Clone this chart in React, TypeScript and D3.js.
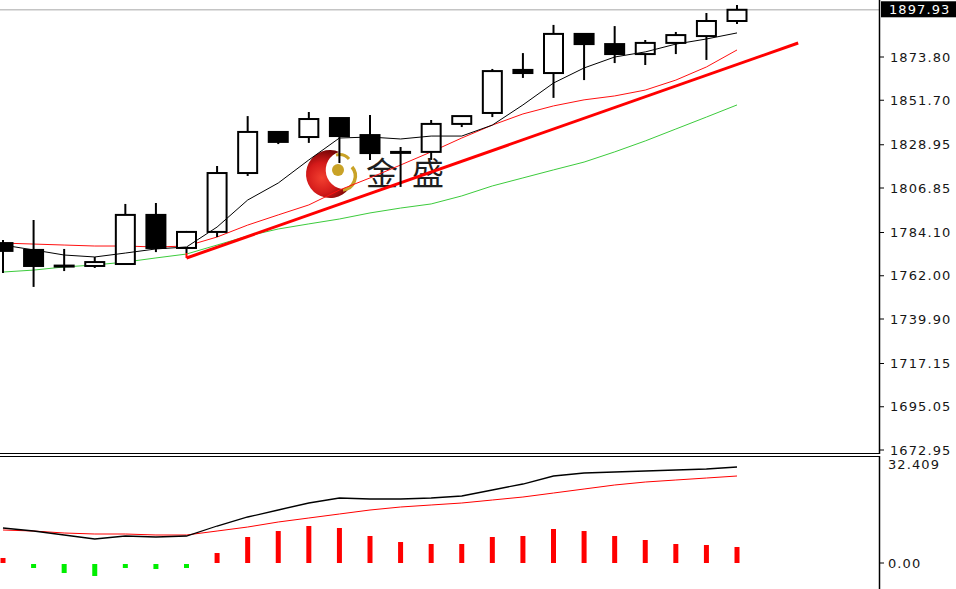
import * as d3 from "d3";

// price candles (left to right)
const opens = [1778.7, 1775.2, 1767.2, 1767.0, 1768.0, 1793.1, 1776.2, 1784.4, 1814.5, 1835.5, 1832.9, 1842.6, 1833.9, 1825.3, 1825.3, 1839.6, 1845.2, 1867.2, 1865.6, 1885.6, 1880.4, 1875.3, 1881.0, 1884.5, 1892.2];
const highs = [1780.3, 1790.5, 1775.7, 1771.6, 1798.7, 1799.2, 1784.9, 1818.1, 1843.6, 1835.5, 1845.7, 1842.6, 1844.2, 1827.8, 1841.6, 1843.6, 1867.7, 1875.8, 1890.2, 1885.6, 1889.6, 1882.5, 1886.6, 1896.3, 1900.4];
const lows = [1763.4, 1756.3, 1764.4, 1766.0, 1768.0, 1774.1, 1773.6, 1781.8, 1813.0, 1829.3, 1829.9, 1819.6, 1821.2, 1807.4, 1821.2, 1838.0, 1843.1, 1863.1, 1852.9, 1862.0, 1870.7, 1869.7, 1875.3, 1872.3, 1890.7];
const closes = [1774.7, 1767.0, 1766.7, 1769.0, 1793.1, 1776.2, 1784.4, 1814.5, 1835.5, 1830.4, 1842.1, 1833.4, 1824.7, 1825.0, 1839.6, 1843.6, 1866.6, 1865.6, 1885.6, 1880.4, 1875.3, 1881.0, 1885.0, 1892.2, 1897.93];

// moving averages
const maFast = [1777.7, 1775.2, 1772.6, 1771.6, 1773.6, 1775.7, 1776.7, 1786.9, 1800.7, 1809.4, 1821.2, 1832.4, 1832.9, 1831.9, 1833.4, 1833.4, 1839.0, 1849.3, 1860.5, 1868.2, 1873.8, 1876.4, 1880.4, 1883.0, 1886.1];
const maMid = [1778.7, 1778.2, 1777.7, 1777.2, 1777.2, 1776.7, 1777.2, 1781.8, 1787.9, 1793.1, 1798.2, 1805.8, 1812.0, 1818.6, 1825.3, 1832.4, 1839.0, 1844.7, 1848.8, 1851.9, 1853.9, 1856.9, 1862.0, 1868.7, 1877.4];
const maSlow = [1763.9, 1764.9, 1766.5, 1767.5, 1769.0, 1771.1, 1773.1, 1777.7, 1782.3, 1785.9, 1788.5, 1791.0, 1794.1, 1796.6, 1798.7, 1802.8, 1807.9, 1812.0, 1816.1, 1820.1, 1825.3, 1830.9, 1837.0, 1843.1, 1849.3];

// trend line (bar index, price)
const trendIdx = [6, 26];
const trendPrice = [1771.07, 1880.95];

const priceTicks = [1873.8, 1851.7, 1828.95, 1806.85, 1784.1, 1762.0, 1739.9, 1717.15, 1695.05, 1672.95];
const bidPrice = 1897.93;

// lower indicator
const macdHist = [1.64, -1.31, -2.95, -3.93, -1.31, -1.64, -1.31, 3.27, 8.51, 10.47, 12.11, 11.46, 8.84, 6.87, 6.22, 6.22, 8.51, 8.84, 11.13, 10.47, 8.84, 7.53, 6.22, 5.89, 5.24];
const macdMain = [11.46, 10.47, 9.17, 7.86, 8.84, 8.51, 8.84, 12.11, 15.06, 17.35, 19.64, 21.28, 20.95, 20.95, 21.28, 21.93, 23.9, 25.86, 28.48, 29.46, 29.79, 30.11, 30.44, 30.77, 31.42];
const macdSignal = [10.8, 10.47, 9.82, 9.49, 9.49, 9.17, 9.17, 10.47, 11.78, 13.42, 14.73, 16.04, 17.35, 18.33, 18.99, 19.64, 20.62, 21.6, 22.91, 24.22, 25.53, 26.51, 27.17, 27.82, 28.48];
const macdMaxLabel = 32.409;

const W = 956;
const H = 589;
const AXIS_X = 879;
const MAIN_BOTTOM = 453;
const SUB_TOP = 456;
const FONT = "'DejaVu Sans', Verdana, sans-serif";

export default function App() {
  const x = d3.scaleLinear().domain([0, 24]).range([3, 737]);
  const y = d3.scaleLinear().domain([1672.95, 1873.8]).range([450, 57]);
  const ym = d3.scaleLinear().domain([0, macdMaxLabel]).range([563, 464]);

  const bodyW = 19;
  const histW = 5;

  const priceLine = d3.line<number>().x((_, i) => x(i)).y((d) => y(d));
  const macdLine = d3.line<number>().x((_, i) => x(i)).y((d) => ym(d));

  const labelStyle = { fontFamily: FONT, fontSize: 13, fill: "#161616", letterSpacing: 1.1 } as const;

  return (
    <svg width={W} height={H} style={{ position: "absolute", left: 0, top: 0, background: "#fff" }}>
      <defs>
        <clipPath id="mainClip">
          <rect x={0} y={0} width={AXIS_X} height={MAIN_BOTTOM} />
        </clipPath>
        <clipPath id="subClip">
          <rect x={0} y={SUB_TOP + 1} width={AXIS_X} height={H - SUB_TOP} />
        </clipPath>
        <radialGradient id="logoRed" gradientUnits="userSpaceOnUse" cx={322} cy={178} r={28}>
          <stop offset="0%" stopColor="#f24030" />
          <stop offset="55%" stopColor="#d41a1a" />
          <stop offset="100%" stopColor="#7a0606" />
        </radialGradient>
      </defs>

      <rect x={0} y={0} width={W} height={H} fill="#fff" />

      {/* watermark */}
      <g>
        <path d="M339.3,151.9 A24,24 0 1 0 349.1,188.6 A19,19 0 0 1 339.3,151.9 Z" fill="url(#logoRed)" />
        <path d="M336,155 Q344,153 349,159" fill="none" stroke="#c9a227" strokeWidth={3} />
        <path d="M352,167 A14,14 0 0 1 343,190" fill="none" stroke="#c9a227" strokeWidth={3.5} />
        <circle cx={338} cy={170} r={6} fill="#c9a227" />
        <text x={366} y={185} fontFamily="'Noto Sans CJK SC', sans-serif" fontSize={32} fill="#1e1e1e" letterSpacing={14}>
          金盛
        </text>
      </g>

      <g clipPath="url(#mainClip)">
        {/* bid line */}
        <line x1={0} x2={AXIS_X} y1={y(bidPrice)} y2={y(bidPrice)} stroke="#c4c4c4" strokeWidth={1.5} />

        <path d={priceLine(maSlow) ?? ""} fill="none" stroke="#3ccb3c" strokeWidth={1} />
        <path d={priceLine(maMid) ?? ""} fill="none" stroke="#ff1010" strokeWidth={1} />

        {/* trend line */}
        <line
          x1={x(trendIdx[0])}
          y1={y(trendPrice[0])}
          x2={x(trendIdx[1])}
          y2={y(trendPrice[1])}
          stroke="#ff0000"
          strokeWidth={3}
        />
        <line x1={x(trendIdx[0])} y1={y(trendPrice[0])} x2={x(trendIdx[0])} y2={y(trendPrice[0]) - 5} stroke="#ff0000" strokeWidth={2} />

        {/* candles */}
        {opens.map((o, i) => {
          const c = closes[i];
          const bull = c >= o;
          const top = y(Math.max(o, c));
          const bot = y(Math.min(o, c));
          const cx = x(i);
          return (
            <g key={i}>
              <line x1={cx} x2={cx} y1={y(highs[i])} y2={y(lows[i])} stroke="#000" strokeWidth={2} />
              <rect
                x={cx - bodyW / 2}
                y={top}
                width={bodyW}
                height={Math.max(bot - top, 1)}
                fill={bull ? "#fff" : "#000"}
                stroke="#000"
                strokeWidth={2}
              />
            </g>
          );
        })}

        <path d={priceLine(maFast) ?? ""} fill="none" stroke="#000" strokeWidth={1} />
      </g>

      {/* panel separator */}
      <line x1={0} x2={AXIS_X} y1={MAIN_BOTTOM + 0.5} y2={MAIN_BOTTOM + 0.5} stroke="#000" strokeWidth={1} />
      <line x1={0} x2={AXIS_X} y1={SUB_TOP + 0.5} y2={SUB_TOP + 0.5} stroke="#000" strokeWidth={1} />

      {/* indicator panel */}
      <g clipPath="url(#subClip)">
        {macdHist.map((v, i) => (
          <rect
            key={i}
            x={x(i) - histW / 2}
            y={v >= 0 ? ym(v) : ym(0) + 1}
            width={histW}
            height={v >= 0 ? ym(0) - ym(v) : ym(v) - ym(0)}
            fill={v >= 0 ? "#ff0000" : "#00ee00"}
          />
        ))}
        <path d={macdLine(macdSignal) ?? ""} fill="none" stroke="#ff0000" strokeWidth={1} />
        <path d={macdLine(macdMain) ?? ""} fill="none" stroke="#000" strokeWidth={1.3} />
      </g>

      {/* right axis */}
      <line x1={AXIS_X + 0.5} x2={AXIS_X + 0.5} y1={0} y2={MAIN_BOTTOM + 1} stroke="#000" strokeWidth={1.5} />
      <line x1={AXIS_X + 0.5} x2={AXIS_X + 0.5} y1={SUB_TOP} y2={H} stroke="#000" strokeWidth={1.5} />

      {priceTicks.map((t) => (
        <g key={t}>
          <line x1={AXIS_X} x2={AXIS_X + 5} y1={y(t)} y2={y(t)} stroke="#000" strokeWidth={1} />
          <text x={890} y={y(t)} dy="0.36em" {...labelStyle}>
            {t.toFixed(2)}
          </text>
        </g>
      ))}

      {/* current price tag */}
      <rect x={881} y={y(bidPrice) - 8.5} width={W - 881} height={16} fill="#000" />
      <text x={889} y={y(bidPrice)} dy="0.36em" {...labelStyle} fill="#fff">
        {bidPrice.toFixed(2)}
      </text>

      <text x={888} y={ym(macdMaxLabel)} dy="0.36em" {...labelStyle}>
        {macdMaxLabel.toFixed(3)}
      </text>
      <line x1={AXIS_X} x2={AXIS_X + 5} y1={ym(0)} y2={ym(0)} stroke="#000" strokeWidth={1} />
      <text x={888} y={ym(0)} dy="0.36em" {...labelStyle}>
        {(0).toFixed(2)}
      </text>
    </svg>
  );
}
